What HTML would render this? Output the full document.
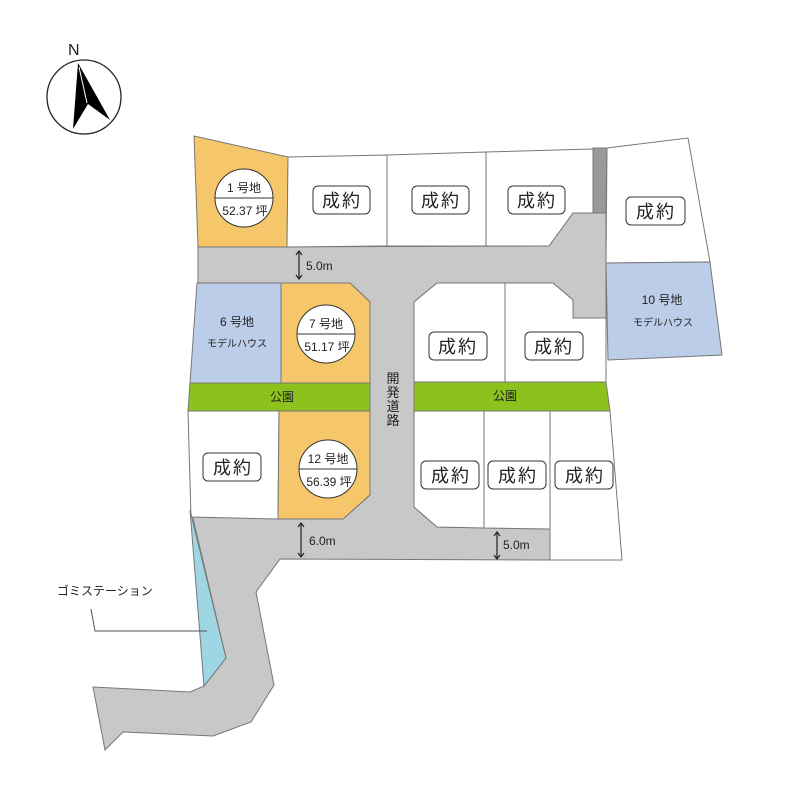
<!DOCTYPE html>
<html><head><meta charset="utf-8"><style>
body{margin:0;background:#fff}
svg text{font-family:"Liberation Sans","Noto Sans CJK JP",sans-serif;fill:#222}
</style></head><body>
<svg width="800" height="800" viewBox="0 0 800 800" xmlns="http://www.w3.org/2000/svg">
<g stroke="#777" stroke-width="1">
<!-- roads -->
<polygon fill="#c8c8c8" points="198,247 549,246 573,213 606,213 606,318 573,318 573,300 553,283 437,283 414,302 414,507 437,527 550,529 550,560 280,559 256,592 274,685 251,722 213,736 123,732 105,750 93,687 190,692 204,686 226,658 191,510 278,519 343,519 370,495 370,302 350,283 198,283"/>
<polygon fill="#999" points="593,148 607,148 606,213 593,213"/>
<!-- lots -->
<polygon fill="#f6c66a" points="194,136 288,157 287,247 198,247"/>
<polygon fill="#fff" points="288,157 387,155 387,246 287,247"/>
<polygon fill="#fff" points="387,155 486,152 486,246 387,246"/>
<polygon fill="#fff" points="486,152 593,149 593,213 573,213 549,246 486,246"/>
<polygon fill="#fff" points="607,148 688,138 710,262 606,263"/>
<polygon fill="#bccde9" points="606,263 710,262 722,355 608,360"/>
<polygon fill="#bccde9" points="197,283 281,283 281,383 190,383"/>
<polygon fill="#f6c66a" points="281,283 350,283 370,302 370,383 281,383"/>
<polygon fill="#fff" points="414,302 437,283 505,283 505,382 414,382"/>
<polygon fill="#fff" points="505,283 553,283 573,300 573,318 606,318 606,382 505,382"/>
<polygon fill="#8cc11e" points="190,383 370,383 370,411 188,411"/>
<polygon fill="#8cc11e" points="414,382 606,382 610,411 414,411"/>
<polygon fill="#fff" points="188,411 279,411 278,519 191,517"/>
<polygon fill="#f6c66a" points="279,411 370,411 370,495 343,519 278,519"/>
<polygon fill="#fff" points="414,411 484,411 484,528 437,527 414,507"/>
<polygon fill="#fff" points="484,411 550,411 550,529 484,528"/>
<polygon fill="#fff" points="550,411 610,411 622,560 550,560"/>
<polygon fill="#9fd6e4" points="190,510 204,686 226,658"/>
</g>
<!-- north -->
<circle cx="84" cy="97" r="37" fill="none" stroke="#222" stroke-width="1.3"/>
<polygon points="78,63 110,120 88,104 73,129" fill="#000"/>
<line x1="79" y1="67" x2="87" y2="103" stroke="#fff" stroke-width="1"/>
<text x="68" y="55" font-size="16">N</text>
<!-- circles -->
<g fill="#fff" stroke="#333" stroke-width="1">
<circle cx="244" cy="198" r="29"/><line x1="215" y1="198" x2="273" y2="198"/>
<circle cx="326" cy="334" r="29"/><line x1="297" y1="334" x2="355" y2="334"/>
<circle cx="328" cy="469" r="29"/><line x1="299" y1="469" x2="357" y2="469"/>
</g>
<g font-size="12" text-anchor="middle">
<text x="244" y="192">1 号地</text><text x="245" y="215">52.37 坪</text>
<text x="326" y="328">7 号地</text><text x="327" y="351">51.17 坪</text>
<text x="328" y="463">12 号地</text><text x="329" y="486">56.39 坪</text>
<text x="237" y="326">6 号地</text><text x="237" y="347" font-size="10">モデルハウス</text>
<text x="662" y="304">10 号地</text><text x="663" y="326" font-size="10">モデルハウス</text>
<text x="282" y="401">公園</text><text x="505" y="400">公園</text>
</g>
<!-- sold boxes -->
<g fill="#fff" stroke="#333" stroke-width="1">
<rect x="313" y="186" width="57" height="28" rx="5"/>
<rect x="412" y="186" width="57" height="28" rx="5"/>
<rect x="508" y="186" width="57" height="28" rx="5"/>
<rect x="626" y="197" width="59" height="28" rx="5"/>
<rect x="429" y="332" width="58" height="28" rx="5"/>
<rect x="525" y="332" width="58" height="28" rx="5"/>
<rect x="203" y="453" width="58" height="28" rx="5"/>
<rect x="421" y="461" width="58" height="28" rx="5"/>
<rect x="488" y="461" width="58" height="28" rx="5"/>
<rect x="555" y="461" width="58" height="28" rx="5"/>
</g>
<g font-size="18" text-anchor="middle" letter-spacing="2">
<text x="342" y="207">成約</text><text x="441" y="207">成約</text><text x="537" y="207">成約</text>
<text x="656" y="218">成約</text><text x="458" y="353">成約</text><text x="554" y="353">成約</text>
<text x="233" y="474">成約</text><text x="451" y="482">成約</text><text x="518" y="482">成約</text><text x="585" y="482">成約</text>
</g>
<!-- dims -->
<g stroke="#222" stroke-width="1.2" fill="none">
<line x1="299" y1="251" x2="299" y2="279"/><polyline points="296,255 299,251 302,255"/><polyline points="296,275 299,279 302,275"/>
<line x1="301" y1="523" x2="301" y2="557"/><polyline points="298,527 301,523 304,527"/><polyline points="298,553 301,557 304,553"/>
<line x1="497" y1="532" x2="497" y2="559"/><polyline points="494,536 497,532 500,536"/><polyline points="494,555 497,559 500,555"/>
</g>
<g font-size="12"><text x="306" y="270">5.0m</text><text x="309" y="545">6.0m</text><text x="503" y="549">5.0m</text></g>
<g font-size="13" text-anchor="middle"><text x="393" y="383">開</text><text x="393" y="397">発</text><text x="393" y="411">道</text><text x="393" y="425">路</text></g>
<polyline points="207,631 95,631 91,609" fill="none" stroke="#555" stroke-width="1"/>
<text x="57" y="595" font-size="12">ゴミステーション</text>
</svg>
</body></html>
